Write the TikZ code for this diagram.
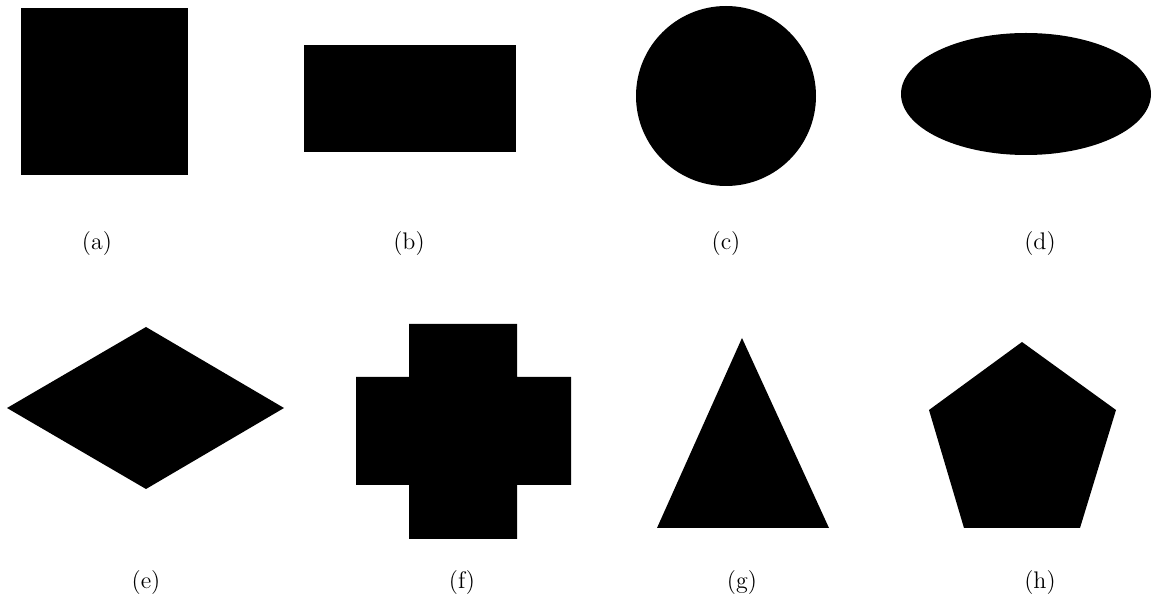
\documentclass[tikz,border=0pt]{standalone}
\begin{document}
\begin{tikzpicture}[x=0.5pt,y=-0.5pt,
  shapefill/.style={fill=black,draw=none},
  caption/.style={font=\large,inner sep=0pt}]
\useasboundingbox (0,0) rectangle (1164,609);
% (a) square
\fill[shapefill] (21,8) rectangle (188,175);
% (b) rectangle
\fill[shapefill] (304,45) rectangle (516,152);
% (c) circle
\fill[shapefill] (726,96) circle [radius=90];
% (d) ellipse
\fill[shapefill] (1026,94) ellipse [x radius=125, y radius=61];
% (e) diamond
\fill[shapefill] (7,408) -- (146,327) -- (284,408) -- (146,489) -- cycle;
% (f) cross
\fill[shapefill] (409,324) -- (517,324) -- (517,377) -- (571,377) -- (571,485)
  -- (517,485) -- (517,539) -- (409,539) -- (409,485) -- (356,485)
  -- (356,377) -- (409,377) -- cycle;
% (g) triangle
\fill[shapefill] (742,338) -- (829,528) -- (657,528) -- cycle;
% (h) pentagon
\fill[shapefill] (1022,342) -- (1116,410) -- (1080,528) -- (964,528) -- (929,410) -- cycle;
% captions
\node[caption] (la) at (97,244) {(a)};
\node[caption] (lb) at (409,244) {(b)};
\node[caption] (lc) at (726,244) {(c)};
\node[caption] (ld) at (1040,244) {(d)};
\node[caption] (le) at (146,583) {(e)};
\node[caption] (lf) at (462,583) {(f)};
\node[caption] (lg) at (742,583) {(g)};
\node[caption] (lh) at (1040,583) {(h)};
\end{tikzpicture}
\end{document}
